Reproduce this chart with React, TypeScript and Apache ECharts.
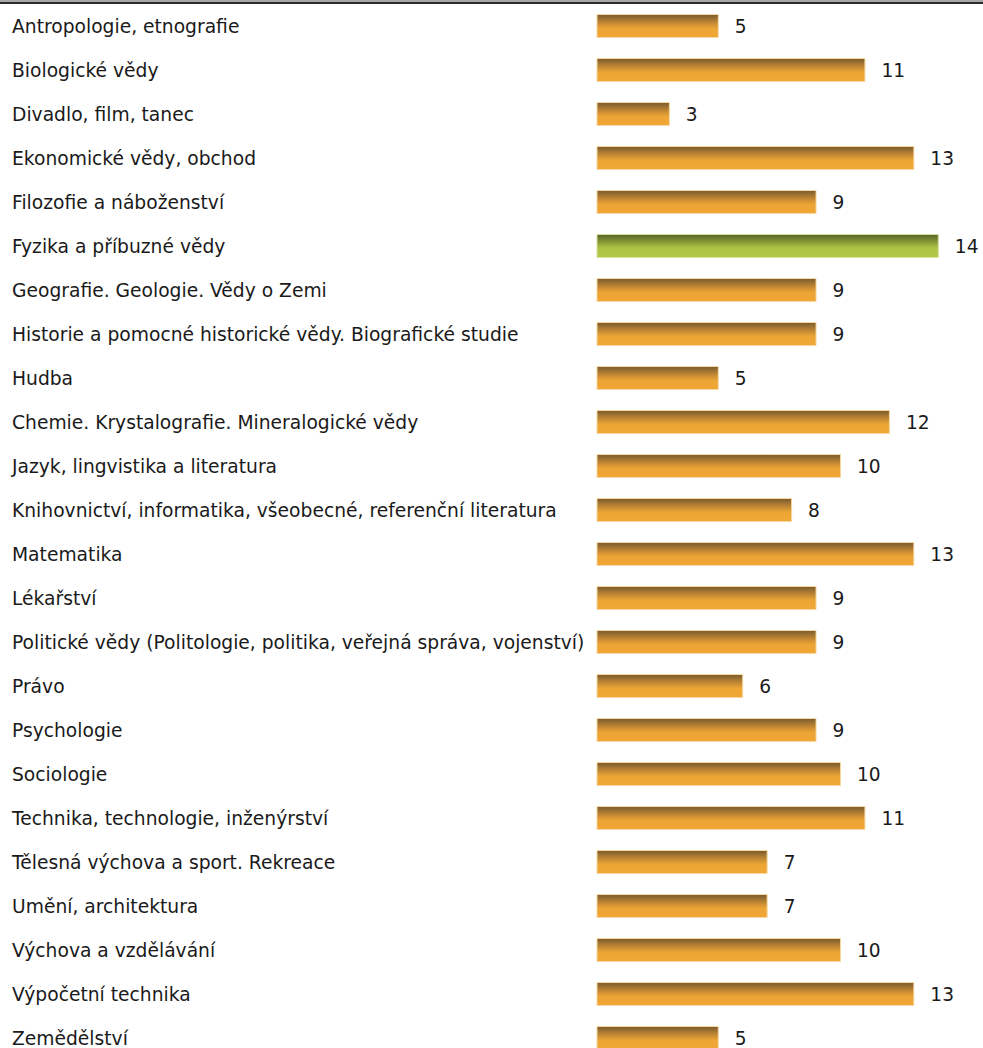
import React, { useEffect, useRef } from "react";
import * as echarts from "echarts";

const categories = [
  "Antropologie, etnografie",
  "Biologické vědy",
  "Divadlo, film, tanec",
  "Ekonomické vědy, obchod",
  "Filozofie a náboženství",
  "Fyzika a příbuzné vědy",
  "Geografie. Geologie. Vědy o Zemi",
  "Historie a pomocné historické vědy. Biografické studie",
  "Hudba",
  "Chemie. Krystalografie. Mineralogické vědy",
  "Jazyk, lingvistika a literatura",
  "Knihovnictví, informatika, všeobecné, referenční literatura",
  "Matematika",
  "Lékařství",
  "Politické vědy (Politologie, politika, veřejná správa, vojenství)",
  "Právo",
  "Psychologie",
  "Sociologie",
  "Technika, technologie, inženýrství",
  "Tělesná výchova a sport. Rekreace",
  "Umění, architektura",
  "Výchova a vzdělávání",
  "Výpočetní technika",
  "Zemědělství",
];

const values = [5, 11, 3, 13, 9, 14, 9, 9, 5, 12, 10, 8, 13, 9, 9, 6, 9, 10, 11, 7, 7, 10, 13, 5];

const highlighted = ["Fyzika a příbuzné vědy"];

export default function App() {
  const ref = useRef<HTMLDivElement>(null);
  useEffect(() => {
    document.body.style.margin = "0";
    document.body.style.overflow = "hidden";
    document.documentElement.style.overflow = "hidden";
    const chart = echarts.init(ref.current!, null, { renderer: "svg" });
    const orange = new echarts.graphic.LinearGradient(0, 0, 0, 1, [
      { offset: 0, color: "#7a5a2f" },
      { offset: 0.5, color: "#dc9a35" },
      { offset: 0.62, color: "#eda535" },
      { offset: 1, color: "#f0a735" },
    ]);
    const green = new echarts.graphic.LinearGradient(0, 0, 0, 1, [
      { offset: 0, color: "#56632a" },
      { offset: 0.5, color: "#9fb73f" },
      { offset: 0.62, color: "#adc546" },
      { offset: 1, color: "#b2c94a" },
    ]);
    const maxVal = 15;
    chart.setOption({
      animation: false,
      backgroundColor: "#ffffff",
      grid: { left: 596.5, top: 4, width: 24.45 * maxVal, height: 44 * categories.length, containLabel: false },
      xAxis: {
        type: "value",
        min: 0,
        max: maxVal,
        show: false,
      },
      yAxis: {
        type: "category",
        data: categories,
        inverse: true,
        axisLine: { show: false },
        axisTick: { show: false },
        splitLine: { show: false },
        axisLabel: {
          align: "left",
          margin: 584.5,
          fontFamily: "DejaVu Sans, Verdana, sans-serif",
          fontSize: 18.7,
          color: "#1a1a1a",
          padding: [3, 0, 0, 0],
        },
      },
      graphic: [
        { type: "rect", shape: { x: 0, y: 0, width: 983, height: 2 }, style: { fill: "#a8a8a8" } },
        { type: "rect", shape: { x: 0, y: 2, width: 983, height: 2 }, style: { fill: "#2a2a2a" } },
      ],
      series: [
        {
          type: "bar",
          barWidth: 24,
          data: values.map((v, i) => ({
            value: v,
            itemStyle: {
              color: highlighted.includes(categories[i]) ? green : orange,
              borderColor: highlighted.includes(categories[i]) ? "#d6e2a0" : "#f6d8a0",
              borderWidth: 1,
            },
          })),
          label: {
            show: true,
            position: "right",
            distance: 16,
            fontFamily: "DejaVu Sans, Verdana, sans-serif",
            fontSize: 18.6,
            color: "#1a1a1a",
            padding: [3, 0, 0, 0],
          },
        },
      ],
    });
    return () => chart.dispose();
  }, []);
  return <div ref={ref} style={{ width: 983, height: 1062 }} />;
}
